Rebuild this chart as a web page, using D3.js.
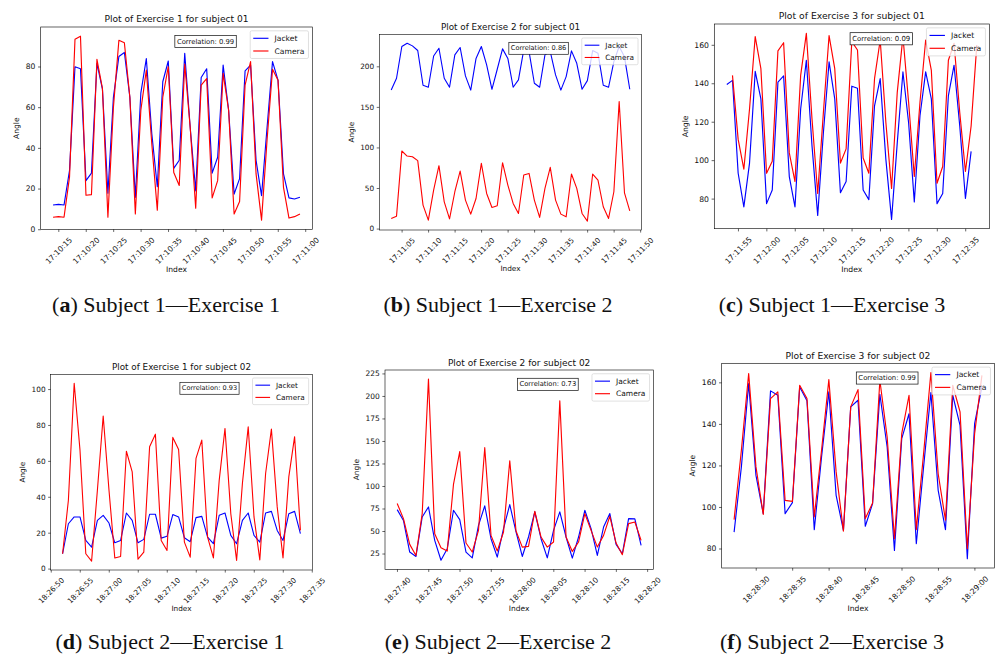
<!DOCTYPE html>
<html><head><meta charset="utf-8">
<script src="https://cdn.jsdelivr.net/npm/d3@7"></script>
<style>body{margin:0;background:#fff;} svg{display:block;}</style>
</head><body>
<svg id="chart" width="996" height="655"></svg>
<script>
// ---------------- DATA ----------------
const seriesNames = ["Jacket", "Camera"];

// (a) Subject 1 - Exercise 1
const aJacketStart = "17:10:14", aCameraStart = "17:10:14";
const aJacket = [12,12.3,12,29,80,79,24,27.7,81.6,69,17.8,65,85,87,65,15.8,67,84,47,21,72.6,82.8,30,34,86.6,50,19,74.7,79,27.7,35.5,80.8,58.6,17.4,25,78,80.8,34,16.6,50,82.5,73.4,27.3,15.5,15,15.8];
const aCamera = [6,6.3,6,25.7,93.5,95,16.8,17.1,83.6,69.3,6,60,93,91.8,65,7.6,58.6,78.3,42,9.5,65,80,28,21.6,81.3,50,10.5,71,74.2,15.5,24,76.7,58.6,7.6,13.7,71,82.5,27.3,4.6,43.8,78.7,73.4,20.7,5.6,6.3,7.6];
const aCorr = "0.99";
const aYTicks = [0,20,40,60,80];
const aXTicks = ["17:10:15","17:10:20","17:10:25","17:10:30","17:10:35","17:10:40","17:10:45","17:10:50","17:10:55","17:11:00"];

// (b) Subject 1 - Exercise 2
const bJacketStart = "17:11:03", bCameraStart = "17:11:03";
const bJacket = [171,185.6,224.7,228.8,225.5,219.8,177,174.5,213,222.6,185.6,174.5,214.4,223.5,188.5,171,210,224.7,202,172,196.7,221.8,210,174.5,183.5,220.6,218.5,179.4,174.5,214.4,218.5,189.7,171,187.6,219.3,204,172,182.7,219.8,216.5,177,174.5,206,224.7,212,172];
const bCamera = [12.8,15.6,95.9,89.7,88.9,84,29.2,10.7,47.7,77.8,33.3,12.3,45.7,71.2,35.4,18.1,37.4,80.7,43.6,26.3,28.4,81.5,53.9,31.3,18.9,66.3,68.3,35.4,14,49.8,75.7,35.4,18.1,14.8,67.5,49.8,18.9,9.5,67.5,60,27.2,12.8,45.7,156.8,44.4,22.2];
const bCorr = "0.86";
const bYTicks = [0,50,100,150,200];
const bXTicks = ["17:11:05","17:11:10","17:11:15","17:11:20","17:11:25","17:11:30","17:11:35","17:11:40","17:11:45","17:11:50"];

// (c) Subject 1 - Exercise 3
const cJacketStart = "17:11:53", cCameraStart = "17:11:54";
const cJacket = [139.5,141.6,93.3,75.8,98.6,146.3,132,77.5,84.6,140.7,143.9,91.6,75.8,126.7,152.1,107.4,71.4,114.4,151.2,132,83.2,89,138.6,137.5,84.6,79.6,128.4,142.5,100.4,69.3,109.1,146,119.6,78.4,123.2,146,132,77.5,82.8,133.7,149.5,117.9,80.2,104.7];
const cCamera = [144.2,110.9,95.4,126.7,164.4,147.7,93.3,99.5,157,161.2,103.9,89,144.2,166.1,121.4,82.8,124.9,164.9,147.7,98.6,106,161.8,157.4,101.2,93.3,142.5,162.6,119.6,85.4,135.4,164.4,130.2,91.6,130.2,162.6,146.8,88.1,96.8,152.1,160.9,124.9,94.2,117.9,160];
const cCorr = "0.09";
const cYTicks = [80,100,120,140,160];
const cXTicks = ["17:11:55","17:12:00","17:12:05","17:12:10","17:12:15","17:12:20","17:12:25","17:12:30","17:12:35"];

// (d) Subject 2 - Exercise 1
const dJacketStart = "18:26:52", dCameraStart = "18:26:52";
const dJacket = [8.4,25.1,28.9,28.9,15.8,12.1,27,29.8,25.5,14.5,15.8,31.1,27,14.5,16.4,30.4,30.4,17.1,18.1,30.2,28.9,17.3,15.1,28.5,29.2,17.7,14,29.8,31.1,18.6,14,27,31.1,18.6,14.9,31.1,32,21.4,15.8,30.7,32,19.6];
const dCamera = [8.4,38.2,103.4,66.1,8.4,4.3,43.8,85.1,43.8,6,6.9,65.5,54,5.4,9.3,68,75,15.8,10.2,73.2,66.5,14.9,6.5,61.5,71.7,17.7,6.1,49.3,78.2,30.7,4.7,47.5,79.1,28.9,5,53.1,77.8,34.5,6.1,51.2,73.6,21.4];
const dCorr = "0.93";
const dYTicks = [0,20,40,60,80,100];
const dXTicks = ["18:26:50","18:26:55","18:27:00","18:27:05","18:27:10","18:27:15","18:27:20","18:27:25","18:27:30","18:27:35"];

// (e) Subject 2 - Exercise 2
const eJacketStart = "18:27:40", eCameraStart = "18:27:40";
const eJacket = [74,62,26.9,22,65.9,77,39.9,17.8,30.6,73.3,62.9,26.9,20.5,56.6,78.2,41.7,21.3,52.9,79.6,49.2,22,43.6,71.5,41.7,20.5,51,71.5,43.6,20.2,43.6,73.3,52.9,23.1,54.7,69.6,35.4,25,64,63.7,34.3];
const eCamera = [80.8,64,35.4,23.1,69.6,219,47.3,31.7,28,102,138.4,36.9,26.9,51,142.8,45.4,28,49.2,128.3,50.3,32.4,33.2,72.2,43.6,32.4,38,194.9,43.6,27.6,38,69.6,51,32.4,45.4,66.6,36.9,23.9,58.5,60.3,39.9];
const eCorr = "0.73";
const eYTicks = [25,50,75,100,125,150,175,200,225];
const eXTicks = ["18:27:40","18:27:45","18:27:50","18:27:55","18:28:00","18:28:05","18:28:10","18:28:15","18:28:20"];

// (f) Subject 2 - Exercise 3
const fJacketStart = "18:28:27", fCameraStart = "18:28:27";
const fJacket = [88,119.4,159.5,115.3,96.9,156,153.9,96.9,102.2,157.9,151.2,89.2,124.2,155.5,105.7,88.8,148.3,151.5,90.8,101.7,154.4,129,79.2,133,145,82.4,119.4,155.2,108.1,89.2,153.9,139.4,75.2,140.2,157.9];
const fCamera = [94,127.4,164.3,119.4,96.5,152.3,155.5,103.3,102.8,158.7,152.3,95.3,127.4,161.4,117,88.5,148.3,156.6,94.5,102,161.1,133.8,84.8,135.4,153.9,89.2,125.8,164.8,116.1,93.7,158.7,145.9,80,135.4,163.5];
const fCorr = "0.99";
const fYTicks = [80,100,120,140,160];
const fXTicks = ["18:28:30","18:28:35","18:28:40","18:28:45","18:28:50","18:28:55","18:29:00"];

const titles = ["Plot of Exercise 1 for subject 01","Plot of Exercise 2 for subject 01","Plot of Exercise 3 for subject 01",
                "Plot of Exercise 1 for subject 02","Plot of Exercise 2 for subject 02","Plot of Exercise 3 for subject 02"];
const captionLetters = ["a","b","c","d","e","f"];
const captionTexts = ["Subject 1\u2014Exercise 1","Subject 1\u2014Exercise 2","Subject 1\u2014Exercise 3",
                      "Subject 2\u2014Exercise 1","Subject 2\u2014Exercise 2","Subject 2\u2014Exercise 3"];

// ---------------- LAYOUT (positions only) ----------------
const boxes = [
  [40.7, 27, 271.6, 202.3],
  [379.3, 34.3, 262.4, 195.7],
  [714.3, 24, 275, 204.7],
  [50.7, 374.3, 261.6, 195.7],
  [385, 370, 268.3, 199.3],
  [721.7, 363.3, 272.6, 204.7]
];
const captionPos = [[166,311.5],[498,311.5],[832,311.5],[170,649],[498,649],[832,649]];

const panels = [
  {js:aJacketStart, cs:aCameraStart, j:aJacket, c:aCamera, corr:aCorr, yt:aYTicks, xt:aXTicks},
  {js:bJacketStart, cs:bCameraStart, j:bJacket, c:bCamera, corr:bCorr, yt:bYTicks, xt:bXTicks},
  {js:cJacketStart, cs:cCameraStart, j:cJacket, c:cCamera, corr:cCorr, yt:cYTicks, xt:cXTicks},
  {js:dJacketStart, cs:dCameraStart, j:dJacket, c:dCamera, corr:dCorr, yt:dYTicks, xt:dXTicks},
  {js:eJacketStart, cs:eCameraStart, j:eJacket, c:eCamera, corr:eCorr, yt:eYTicks, xt:eXTicks},
  {js:fJacketStart, cs:fCameraStart, j:fJacket, c:fCamera, corr:fCorr, yt:fYTicks, xt:fXTicks}
];

// ---------------- DRAW ----------------
const svg = d3.select("#chart");
const FONT = "'DejaVu Sans', sans-serif";
const parse = d3.timeParse("%H:%M:%S");
const fmt = d3.timeFormat("%H:%M:%S");
const colors = ["#0000ff", "#ff0000"];

function toSeries(start, vals) {
  const t0 = parse(start).getTime();
  return vals.map((v, i) => ({t: new Date(t0 + i * 1000), v: v}));
}

panels.forEach((p, idx) => {
  const [bx, by, bw, bh] = boxes[idx];
  const k = bw / 496;
  const W = 496, H = bh / k;
  const g = svg.append("g").attr("transform", `translate(${bx},${by}) scale(${k})`)
    .style("font-family", FONT);

  const J = toSeries(p.js, p.j), C = toSeries(p.cs, p.c);
  const all = J.concat(C);
  const [t0, t1] = d3.extent(all, d => d.t.getTime());
  const dt = t1 - t0;
  const x = d3.scaleTime().domain([new Date(t0 - dt * 0.05), new Date(t1 + dt * 0.05)]).range([0, W]);
  const [v0, v1] = d3.extent(all, d => d.v);
  const dv = v1 - v0;
  const y = d3.scaleLinear().domain([v0 - dv * 0.05, v1 + dv * 0.05]).range([H, 0]);

  const line = d3.line().x(d => x(d.t)).y(d => y(d.v));
  [J, C].forEach((s, i) => {
    g.append("path").datum(s).attr("d", line).attr("fill", "none")
      .attr("stroke", colors[i]).attr("stroke-width", 2.08).attr("stroke-linejoin", "round");
  });

  // axes
  const xa = g.append("g").attr("transform", `translate(0,${H})`)
    .call(d3.axisBottom(x).tickValues(p.xt.map(parse)).tickFormat(fmt).tickSize(4.86).tickPadding(4.86));
  const ya = g.append("g")
    .call(d3.axisLeft(y).tickValues(p.yt).tickFormat(d3.format("d")).tickSize(4.86).tickPadding(4.86));
  [xa, ya].forEach(a => {
    a.select(".domain").remove();
    a.selectAll(".tick line").attr("stroke", "#000").attr("stroke-width", 1.11);
    a.selectAll(".tick text").attr("fill", "#111").style("font-size", "13.89px").style("font-family", FONT);
  });
  xa.selectAll(".tick text").attr("text-anchor", "middle").attr("y", 0).attr("dy", "0.35em")
    .attr("transform", "translate(0,39) rotate(-45)");

  // spines
  g.append("rect").attr("x", 0).attr("y", 0).attr("width", W).attr("height", H)
    .attr("fill", "none").attr("stroke", "#000").attr("stroke-width", 1.11);

  // labels
  let maxW = 0;
  ya.selectAll(".tick text").each(function () { maxW = Math.max(maxW, this.getComputedTextLength()); });
  g.append("text").attr("transform", `translate(${-(maxW + 21.6)},${H / 2}) rotate(-90)`)
    .attr("text-anchor", "middle").style("font-size", "13.89px").attr("fill", "#111").text("Angle");
  g.append("text").attr("x", W / 2).attr("y", H + 78).attr("text-anchor", "middle")
    .style("font-size", "13.89px").attr("fill", "#111").text("Index");
  g.append("text").attr("x", W / 2).attr("y", -8.33).attr("text-anchor", "middle")
    .style("font-size", "16.67px").attr("fill", "#111").text(titles[idx]);

  // correlation box
  const cg = g.append("g");
  const ct = cg.append("text").attr("x", 0.607 * W).attr("y", 0.07 * H).attr("dy", "0.35em")
    .attr("text-anchor", "middle").style("font-size", "12.5px").attr("fill", "#111")
    .text("Correlation: " + p.corr);
  const bb = ct.node().getBBox();
  cg.insert("rect", "text").attr("x", bb.x - 3.75).attr("y", bb.y - 3.75)
    .attr("width", bb.width + 7.5).attr("height", bb.height + 7.5)
    .attr("fill", "#fff").attr("stroke", "#111").attr("stroke-width", 1.3);

  // legend
  const fs = 13.89, pad = 0.4 * fs, hl = 2 * fs, htp = 0.8 * fs, rowH = fs * 1.17, ls = 0.5 * fs;
  const lg = g.append("g");
  const texts = seriesNames.map((n, i) => lg.append("text").style("font-size", fs + "px").attr("fill", "#111").text(n));
  const tw = d3.max(texts, t => t.node().getComputedTextLength());
  const lw = pad * 2 + hl + htp + tw + 2;
  const lh = pad * 2 + rowH * 2 + ls;
  const lx = W - 6.94 - lw, ly = 6.94;
  lg.insert("rect", "text").attr("x", lx).attr("y", ly).attr("width", lw).attr("height", lh)
    .attr("rx", 2.8).attr("fill", "#fff").attr("fill-opacity", 0.8)
    .attr("stroke", "#cccccc").attr("stroke-width", 1.11);
  seriesNames.forEach((n, i) => {
    const cy = ly + pad + rowH / 2 + i * (rowH + ls);
    lg.append("line").attr("x1", lx + pad).attr("x2", lx + pad + hl).attr("y1", cy).attr("y2", cy)
      .attr("stroke", colors[i]).attr("stroke-width", 2.08);
    texts[i].attr("x", lx + pad + hl + htp).attr("y", cy).attr("dy", "0.35em");
  });
});

// captions
captionLetters.forEach((l, i) => {
  const t = svg.append("text").attr("x", captionPos[i][0]).attr("y", captionPos[i][1])
    .attr("text-anchor", "middle").style("font-family", "'Liberation Serif', serif")
    .style("font-size", "22px").attr("fill", "#111");
  t.append("tspan").text("(");
  t.append("tspan").style("font-weight", "bold").text(l);
  t.append("tspan").text(") " + captionTexts[i]);
});
</script>
</body></html>
